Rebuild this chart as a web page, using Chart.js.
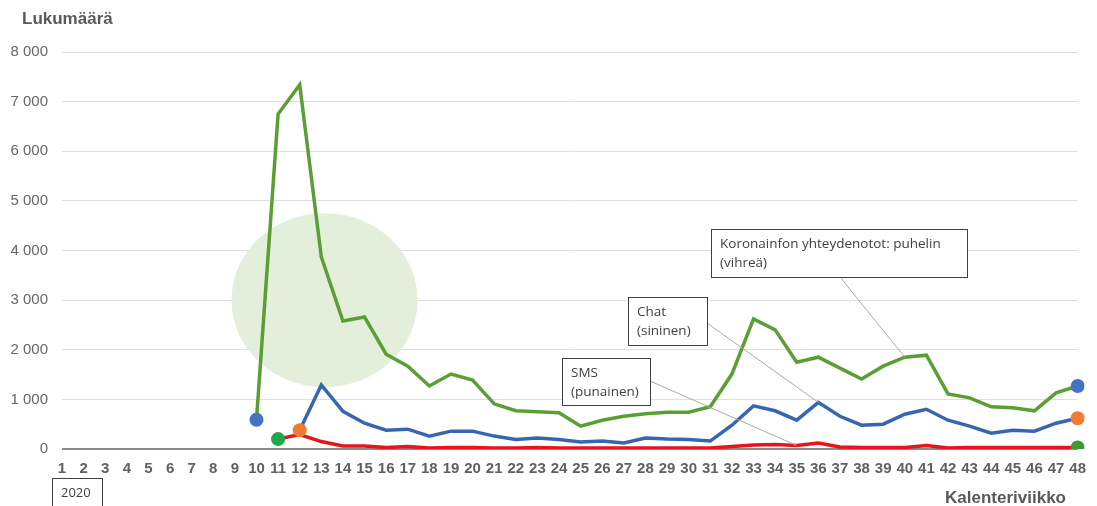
<!DOCTYPE html>
<html>
<head>
<meta charset="utf-8">
<script src="https://cdn.jsdelivr.net/npm/chart.js@4"></script>
<style>
  html, body { margin: 0; padding: 0; background: #fff; }
  #wrap { width: 1097px; height: 506px; }
</style>
</head>
<body>
<div id="wrap"><canvas id="kaavio" width="1097" height="506"></canvas></div>
<script>
// Kalenteriviikot 1-48
const viikot = [];
for (let i = 1; i <= 48; i++) viikot.push(String(i));

// Puhelin (vihreä), viikot 10-48
const puhelin = [null, null, null, null, null, null, null, null, null,
  590, 6750, 7340, 3870, 2580, 2660, 1910, 1670, 1270, 1510, 1390,
  910, 770, 750, 730, 460, 580, 660, 710, 740, 740,
  850, 1510, 2620, 2400, 1750, 1850, 1630, 1410, 1670, 1850,
  1890, 1110, 1030, 850, 830, 770, 1130, 1270];

// Chat (sininen), viikot 12-48
const chat = [null, null, null, null, null, null, null, null, null, null, null,
  380, 1290, 760, 520, 380, 400, 260, 360, 360,
  260, 190, 220, 190, 140, 160, 120, 220, 200, 190,
  160, 480, 870, 770, 580, 940, 660, 480, 500, 700,
  800, 580, 460, 320, 380, 360, 520, 620];

// SMS (punainen), viikot 11-48
const sms = [null, null, null, null, null, null, null, null, null, null,
  200, 290, 150, 60, 60, 30, 50, 20, 30, 30,
  20, 20, 30, 20, 20, 20, 20, 20, 20, 20,
  20, 50, 80, 90, 70, 120, 40, 30, 30, 30,
  70, 20, 30, 30, 30, 30, 30, 30];

const yTicks = [0, 1000, 2000, 3000, 4000, 5000, 6000, 7000, 8000];

const harmaa = "#595959";

// alku- ja loppupisteet
function reunaPiste(data, alkuVari, loppuVari) {
  const eka = data.findIndex(v => v !== null);
  const vika = data.length - 1;
  return {
    radius: ctx => (ctx.dataIndex === eka || ctx.dataIndex === vika ? 7 : 0),
    color: ctx => (ctx.dataIndex === eka ? alkuVari : loppuVari),
  };
}
const pPuh = reunaPiste(puhelin, "#4472c4", "#4472c4");
const pChat = reunaPiste(chat, "#ed7d31", "#ed7d31");
const pSms = reunaPiste(sms, "#1fa84a", "#3f9a34");

const selitteet = [
  { rivit: ["Koronainfon yhteydenotot: puhelin", "(vihreä)"], x: 711, y: 229, w: 256, h: 48, ax: 840, ay: 277, sarja: 0, viikko: 40 },
  { rivit: ["Chat", "(sininen)"], x: 628, y: 297, w: 79, h: 48, ax: 707, ay: 323, sarja: 1, viikko: 36 },
  { rivit: ["SMS", "(punainen)"], x: 562, y: 358, w: 88, h: 47, ax: 650, ay: 381, sarja: 2, viikko: 35 },
];

const koristeet = {
  id: "koristeet",
  beforeDatasetsDraw(chart) {
    const { ctx, scales } = chart;
    // vaalea ympyrä huipun kohdalla
    const cx = scales.x.getPixelForValue(12.15);
    const cy = scales.y.getPixelForValue(3000);
    ctx.save();
    ctx.fillStyle = "#e3eedb";
    ctx.beginPath();
    ctx.ellipse(cx, cy, 93, 87, 0, 0, Math.PI * 2);
    ctx.fill();
    ctx.restore();
  },
  afterDatasetsDraw(chart) {
    const { ctx, scales } = chart;
    ctx.save();
    // johtoviivat
    ctx.strokeStyle = "#a8aca0";
    ctx.lineWidth = 1;
    selitteet.forEach(s => {
      const arvo = chart.data.datasets[s.sarja].data[s.viikko - 1];
      const px = scales.x.getPixelForValue(s.viikko - 1);
      const py = scales.y.getPixelForValue(arvo);
      ctx.beginPath();
      ctx.moveTo(s.ax, s.ay);
      ctx.lineTo(px, py);
      ctx.stroke();
    });
    // laatikot
    ctx.font = "13.5px 'Open Sans', sans-serif";
    ctx.textBaseline = "middle";
    selitteet.forEach(s => {
      ctx.fillStyle = "#fff";
      ctx.fillRect(s.x, s.y, s.w, s.h);
      ctx.strokeStyle = "#3f3f3f";
      ctx.strokeRect(s.x + 0.5, s.y + 0.5, s.w, s.h);
      ctx.fillStyle = "#404040";
      s.rivit.forEach((r, i) => ctx.fillText(r, s.x + 9, s.y + 15 + i * 19));
    });
    // otsikot
    ctx.fillStyle = harmaa;
    ctx.font = "bold 17px 'Liberation Sans', Arial, sans-serif";
    ctx.textBaseline = "alphabetic";
    ctx.textAlign = "left";
    ctx.fillText("Lukumäärä", 22, 24);
    ctx.textAlign = "right";
    ctx.fillText("Kalenteriviikko", 1066, 503);
    // 2020 laatikko
    ctx.textAlign = "left";
    ctx.strokeStyle = "#3f3f3f";
    ctx.strokeRect(52.5, 478.5, 50, 30);
    ctx.fillStyle = "#404040";
    ctx.font = "13px 'Open Sans', sans-serif";
    ctx.textBaseline = "middle";
    ctx.fillText("2020", 61, 493);
    ctx.restore();
  },
};

new Chart(document.getElementById("kaavio"), {
  type: "line",
  data: {
    labels: viikot,
    datasets: [
      {
        label: "Puhelin",
        data: puhelin,
        borderColor: "#5a9e35",
        borderWidth: 3.5,
        pointRadius: pPuh.radius,
        pointBackgroundColor: pPuh.color,
        pointBorderWidth: 0,
        tension: 0,
        order: 1,
      },
      {
        label: "Chat",
        data: chat,
        borderColor: "#3766b1",
        borderWidth: 3.5,
        pointRadius: pChat.radius,
        pointBackgroundColor: pChat.color,
        pointBorderWidth: 0,
        tension: 0,
        order: 2,
      },
      {
        label: "SMS",
        data: sms,
        borderColor: "#e8141c",
        borderWidth: 3.5,
        pointRadius: pSms.radius,
        pointBackgroundColor: pSms.color,
        pointBorderWidth: 0,
        tension: 0,
        order: 3,
      },
    ],
  },
  options: {
    responsive: false,
    animation: false,
    layout: { padding: { top: 52, right: 17, bottom: 0, left: 0 } },
    plugins: { legend: { display: false }, tooltip: { enabled: false } },
    scales: {
      x: {
        offset: false,
        grid: { display: false, drawTicks: false },
        border: { display: false },
        ticks: {
          color: "#606060",
          font: { family: "'Liberation Sans', Arial, sans-serif", size: 15, weight: "bold" },
          maxRotation: 0,
          autoSkip: false,
          padding: 11,
        },
        afterFit(scale) { scale.height = 57; },
      },
      y: {
        min: 0,
        max: 8000,
        afterBuildTicks(scale) { scale.ticks = yTicks.map(v => ({ value: v })); },
        grid: {
          drawTicks: false,
          color: ctx => (ctx.tick && ctx.tick.value === 0 ? "#8a8a8a" : "#dedede"),
          lineWidth: ctx => (ctx.tick && ctx.tick.value === 0 ? 2 : 1),
        },
        border: { display: false },
        ticks: {
          color: "#666",
          font: { family: "'Liberation Sans', Arial, sans-serif", size: 15 },
          padding: 14,
          callback: v => String(v).replace(/\B(?=(\d{3})+(?!\d))/g, " "),
        },
        afterFit(scale) { scale.width = 62; },
      },
    },
  },
  plugins: [koristeet],
});
</script>
</body>
</html>
